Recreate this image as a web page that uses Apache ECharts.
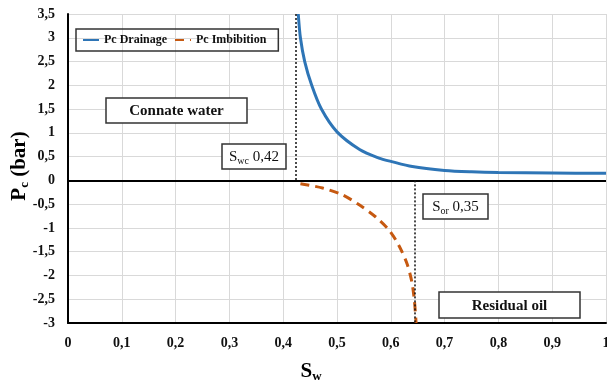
<!DOCTYPE html>
<html>
<head>
<meta charset="utf-8">
<script src="https://cdn.jsdelivr.net/npm/echarts@6/dist/echarts.min.js"></script>
<style>
  html, body { margin: 0; padding: 0; background: #fff; }
  #main { width: 607px; height: 385px; }
</style>
</head>
<body>
<div id="main"></div>
<script>
// courbes
var drainSw = [0.428, 0.432, 0.44, 0.453, 0.471, 0.5, 0.542, 0.578, 0.6, 0.64, 0.7, 0.75, 0.8, 0.9, 1.0];
var drainPc = [3.5, 3.0, 2.5, 2.0, 1.5, 1.02, 0.65, 0.47, 0.4, 0.29, 0.21, 0.18, 0.165, 0.155, 0.15];
var imbSw = [0.432, 0.473, 0.511, 0.542, 0.572, 0.597, 0.615, 0.63, 0.639, 0.644, 0.647];
var imbPc = [-0.07, -0.16, -0.31, -0.52, -0.77, -1.05, -1.37, -1.75, -2.13, -2.55, -3.0];
var seriesNames = ['Pc Drainage', 'Pc Imbibition'];
var swcLine = 0.423, sorLine = 0.645;   // position des pointillés
var swcLabel = '0,42', sorLabel = '0,35';

var font = '"Liberation Serif", "Times New Roman", serif';
function comma(v) { return String(v).replace('.', ','); }
function pairs(xs, ys) { return xs.map(function (x, i) { return [x, ys[i]]; }); }

// boite de texte encadrée : un rect puis le texte centré par-dessus
function box(x, y, w, h, text, rich, extra) {
  var st = { text: text, fill: '#111', fontFamily: font, align: 'center', verticalAlign: 'middle' };
  if (rich) st.rich = rich;
  for (var k in extra) st[k] = extra[k];
  return [
    { type: 'rect', z: 10, shape: { x: x, y: y, width: w, height: h },
      style: { fill: '#fff', stroke: '#333', lineWidth: 1.5 } },
    { type: 'text', z: 11, x: x + w / 2, y: y + h / 2 + 1, style: st }
  ];
}
var subRich = {
  a: { fontFamily: font, fontSize: 15, color: '#222' },
  b: { fontFamily: font, fontSize: 10, color: '#222', padding: [8, 0, 0, 0] }
};

var myChart = echarts.init(document.getElementById('main'));
myChart.setOption({
  backgroundColor: '#fff',
  animation: false,
  grid: { left: 68, top: 14, right: 1, bottom: 62, outerBoundsMode: 'none' },
  legend: {
    left: 76, top: 29,
    padding: [5, 12, 5, 6],
    borderColor: '#333', borderWidth: 1.5,
    itemWidth: 16, itemHeight: 10, itemGap: 7,
    itemStyle: { opacity: 0 },
    textStyle: { fontFamily: font, fontWeight: 'bold', fontSize: 12, color: '#111' },
    data: seriesNames
  },
  xAxis: {
    type: 'value', min: 0, max: 1, interval: 0.1,
    axisLine: { onZero: false, lineStyle: { color: '#000', width: 2 } },
    axisTick: { show: false },
    axisLabel: { margin: 13, fontFamily: font, fontWeight: 'bold', fontSize: 14, color: '#111', formatter: comma },
    splitLine: { lineStyle: { color: '#d9d9d9' } }
  },
  yAxis: {
    type: 'value', min: -3, max: 3.5, interval: 0.5,
    axisLine: { show: true, onZero: false, lineStyle: { color: '#000', width: 2 } },
    axisTick: { show: false },
    axisLabel: { margin: 13, fontFamily: font, fontWeight: 'bold', fontSize: 14, color: '#111', formatter: comma },
    splitLine: { lineStyle: { color: '#d9d9d9' } }
  },
  series: [
    {
      name: seriesNames[0],
      type: 'line',
      data: pairs(drainSw, drainPc),
      smooth: 0.3,
      symbol: 'none',
      lineStyle: { color: '#2e75b6', width: 3 },
      itemStyle: { color: '#2e75b6' },
      z: 3,
      markLine: {
        silent: true, symbol: 'none', label: { show: false },
        data: [
          [{ coord: [0, 0], lineStyle: { color: '#000', width: 2, type: 'solid' } }, { coord: [1, 0] }],
          [{ coord: [swcLine, 3.5], lineStyle: { color: '#111', width: 1.5, type: [2, 2] } }, { coord: [swcLine, 0] }],
          [{ coord: [sorLine, 0], lineStyle: { color: '#111', width: 1.5, type: [2, 2] } }, { coord: [sorLine, -3] }]
        ]
      }
    },
    {
      name: seriesNames[1],
      type: 'line',
      data: pairs(imbSw, imbPc),
      smooth: 0.3,
      symbol: 'none',
      lineStyle: { color: '#c65911', width: 3, type: [9, 6] },
      itemStyle: { color: '#c65911' },
      z: 4
    }
  ],
  graphic: [].concat(
    box(106, 98, 141, 25, 'Connate water', null, { fontWeight: 'bold', fontSize: 15 }),
    box(439, 292, 141, 26, 'Residual oil', null, { fontWeight: 'bold', fontSize: 15 }),
    box(222, 144, 64, 25, '{a|S}{b|wc}{a| ' + swcLabel + '}', subRich),
    box(423, 194, 65, 25, '{a|S}{b|or}{a| ' + sorLabel + '}', subRich),
    [{
      type: 'text', x: 20, y: 166, rotation: Math.PI / 2, z: 10,
      style: {
        text: '{a|P}{b|c}{a| (bar)}',
        rich: {
          a: { fontFamily: font, fontWeight: 'bold', fontSize: 21, color: '#111' },
          b: { fontFamily: font, fontWeight: 'bold', fontSize: 13, color: '#111', padding: [10, 0, 0, 0] }
        },
        align: 'center', verticalAlign: 'middle'
      }
    },
    {
      type: 'text', x: 311, y: 372, z: 10,
      style: {
        text: '{a|S}{b|w}',
        rich: {
          a: { fontFamily: font, fontWeight: 'bold', fontSize: 21, color: '#111' },
          b: { fontFamily: font, fontWeight: 'bold', fontSize: 13, color: '#111', padding: [10, 0, 0, 0] }
        },
        align: 'center', verticalAlign: 'middle'
      }
    }]
  )
});
</script>
</body>
</html>
